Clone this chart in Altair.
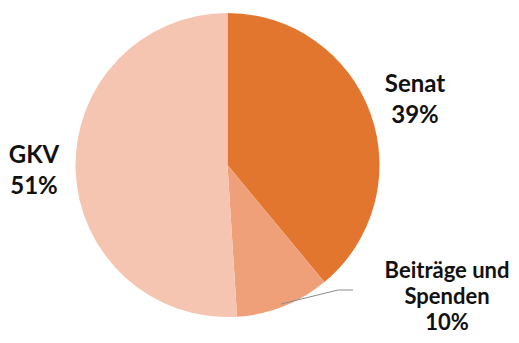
import altair as alt
import pandas as pd

categories = ["Senat", "Beiträge und Spenden", "GKV"]
shares = [39, 10, 51]
colors = ["#E2762F", "#F0A079", "#F6C5B1"]

label_lines = [["Senat", "39%"], ["Beiträge und", "Spenden", "10%"], ["GKV", "51%"]]
# label anchor positions (layout, pixels within chart: x center, first-line baseline)
label_pos = [(406, 84), (438, 270), (25, 155)]
label_lh = [31, 26, 31]
label_size = [24, 22, 24]

df = pd.DataFrame({"cat": categories, "share": shares, "order": [0, 1, 2]})

W, H = 503, 327
CX, CY, R = 218.5, 157, 152

pie = alt.Chart(df).mark_arc(outerRadius=R, stroke=None).encode(
    theta=alt.Theta("share:Q", stack=True),
    order=alt.Order("order:Q"),
    color=alt.Color("cat:N", scale=alt.Scale(domain=categories, range=colors), legend=None),
    x=alt.value(CX),
    y=alt.value(CY),
)

layers = [pie]
for lines, (lx, ly), lh, fs in zip(label_lines, label_pos, label_lh, label_size):
    t = alt.Chart(pd.DataFrame({"txt": [lines]})).mark_text(
        font="Lato", fontWeight="bold", fontSize=fs, color="#111111",
        align="center", baseline="alphabetic", lineHeight=lh,
    ).encode(text="txt", x=alt.value(lx), y=alt.value(ly))
    layers.append(t)

leader1 = alt.Chart(df.head(1)).mark_rule(color="#8c8c8c", strokeWidth=1).encode(
    x=alt.value(272), x2=alt.value(329), y=alt.value(296), y2=alt.value(282)
)
leader2 = alt.Chart(df.head(1)).mark_rule(color="#8c8c8c", strokeWidth=1).encode(
    x=alt.value(329), x2=alt.value(344), y=alt.value(282), y2=alt.value(282)
)
layers += [leader1, leader2]

chart = alt.layer(*layers).properties(
    width=W, height=H,
    autosize=alt.AutoSizeParams(type="fit", contains="padding"),
    padding=0,
).configure_view(stroke=None)

chart.save("out.html", embed_options={"renderer": "svg", "actions": False})
